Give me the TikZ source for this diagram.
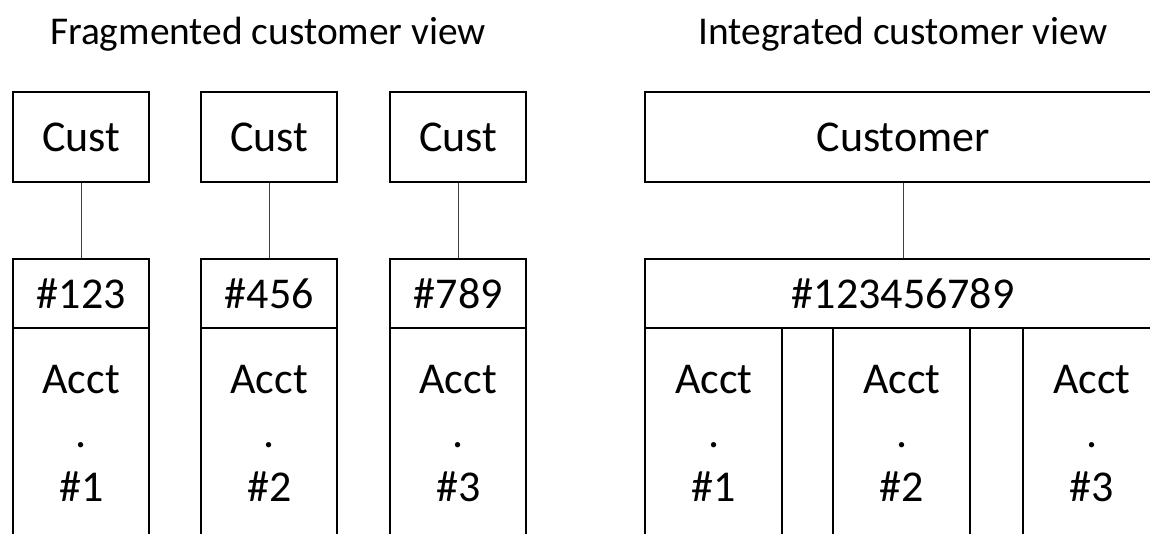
\documentclass[tikz,border=0pt]{standalone}
\usepackage{fontspec}
\setmainfont{Carlito}
\begin{document}
\begin{tikzpicture}[x=1pt,y=-1pt,
  boxfont/.style={font=\fontsize{44}{54}\selectfont},
  cell/.style={draw=black, line width=2.4pt, rectangle, inner sep=0pt,
               anchor=north west, boxfont, align=center},
  link/.style={draw=black!75, line width=1.2pt},
  title/.style={font=\fontsize{39.4}{48}\selectfont, anchor=base, inner sep=0pt}]

\useasboundingbox (0,0) rectangle (1150,533);
\clip (0,0) rectangle (1150,533);

% headings
\node[title] (tfrag) at (268,44) {Fragmented customer view};
\node[title] (tint)  at (903,44) {Integrated customer view};

% fragmented view: one customer record per account
\foreach \i/\x/\num in {1/12/123, 2/200/456, 3/389/789}{
  \node[cell, minimum width=136pt, minimum height=90pt] (cust\i) at (\x,91) {Cust};
  \node[cell, minimum width=136pt, minimum height=69pt] (num\i) at (\x,258) {\#\num};
  \node[cell, minimum width=136pt, minimum height=210pt] (acct\i) at (\x,327) {Acct\\.\\\#\i};
  \draw[link] (cust\i.south) -- (num\i.north);
}

% integrated view: one customer over all accounts
\node[cell, minimum width=516pt, minimum height=90pt] (cust) at (644,91) {Customer};
\node[cell, minimum width=516pt, minimum height=69pt] (allnum) at (644,258) {\#123456789};
\draw[link] (cust.south) -- (allnum.north);

\node[cell, minimum width=137pt, minimum height=210pt] (racct1) at (644,327) {Acct\\.\\\#1};
\node[cell, minimum width=51pt,  minimum height=210pt] (gap1)   at (781,327) {};
\node[cell, minimum width=137pt, minimum height=210pt] (racct2) at (832,327) {Acct\\.\\\#2};
\node[cell, minimum width=53pt,  minimum height=210pt] (gap2)   at (969,327) {};
\node[cell, minimum width=137pt, minimum height=210pt] (racct3) at (1022,327) {Acct\\.\\\#3};

\end{tikzpicture}
\end{document}
